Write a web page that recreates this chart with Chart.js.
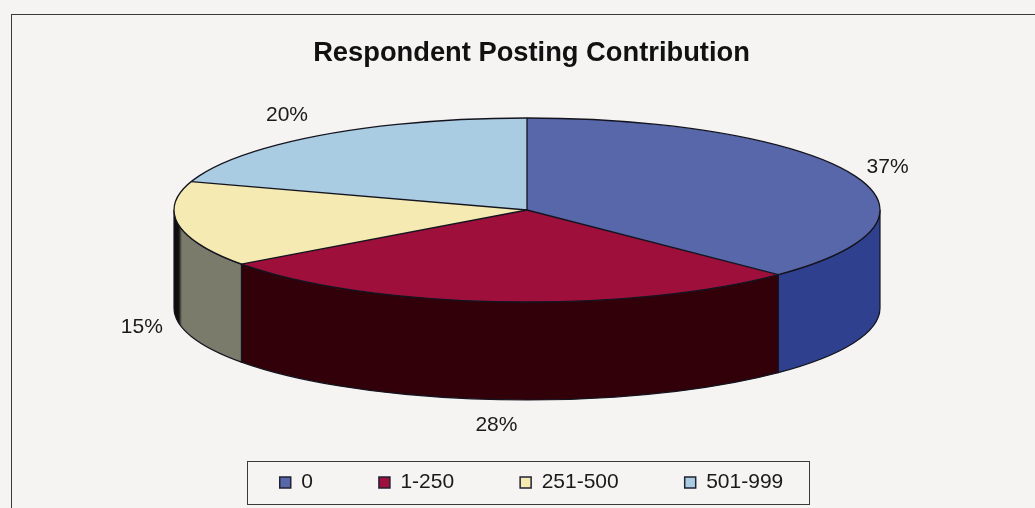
<!DOCTYPE html>
<html>
<head>
<meta charset="utf-8">
<style>
html,body{margin:0;padding:0;background:#f4f2f1;}
#wrap{width:1035px;height:508px;filter:blur(0.45px);}
canvas{display:block;}
</style>
<script src="https://cdn.jsdelivr.net/npm/chart.js@4/dist/chart.umd.min.js"></script>
</head>
<body>
<div id="wrap"><canvas id="c" width="1035" height="508"></canvas></div>
<script>
const categories = ['0', '1-250', '251-500', '501-999'];
const values = [37.4, 27.6, 15, 20];
const topColors = ['#5767a9', '#9f0f3c', '#f5ebb2', '#a9cce2'];
const sideColors = ['#2f408e', '#320009', '#7b7b6c', '#6f8ea3'];
const labelNudges = [[-2, 1], [-1, 4], [3, 1], [-9, -3]];
const chartTitle = 'Respondent Posting Contribution';

const CX = 527, CY = 210, RX = 353, RY = 92, DEPTH = 98;
const INK = '#14141f';

function sideFill(ctx, i) {
  if (i !== 2) return sideColors[i];
  const g = ctx.createLinearGradient(CX - RX, 0, CX - RX + 8, 0);
  g.addColorStop(0, '#0a0a0a');
  g.addColorStop(0.6, '#111111');
  g.addColorStop(1, sideColors[i]);
  return g;
}

const pie3d = {
  id: 'pie3d',
  beforeDraw(chart) {
    const ctx = chart.ctx;
    ctx.save();
    ctx.fillStyle = '#f6f4f3';
    ctx.fillRect(0, 0, 1035, 508);
    ctx.strokeStyle = '#3a3a3a';
    ctx.lineWidth = 1;
    ctx.strokeRect(11.5, 14.5, 1060, 520);
    ctx.strokeRect(247.5, 461.5, 562, 43);
    ctx.restore();
  },
  beforeDatasetsDraw(chart) {
    const ctx = chart.ctx;
    const arcs = chart.getDatasetMeta(0).data;
    ctx.save();
    ctx.strokeStyle = INK;
    ctx.lineWidth = 1.2;
    arcs.forEach((arc, i) => {
      const a1 = Math.max(arc.startAngle, 0);
      const a2 = Math.min(arc.endAngle, Math.PI);
      if (a2 <= a1) return;
      ctx.beginPath();
      ctx.ellipse(CX, CY, RX, RY, 0, a1, a2);
      ctx.lineTo(CX + RX * Math.cos(a2), CY + RY * Math.sin(a2) + DEPTH);
      ctx.ellipse(CX, CY + DEPTH, RX, RY, 0, a2, a1, true);
      ctx.closePath();
      ctx.fillStyle = sideFill(ctx, i);
      ctx.fill();
      ctx.stroke();
    });
    ctx.restore();
    const first = arcs[0];
    ctx.save();
    ctx.translate(CX, CY);
    ctx.scale(RX / first.outerRadius, RY / first.outerRadius);
    ctx.translate(-first.x, -first.y);
  },
  afterDatasetsDraw(chart) {
    const ctx = chart.ctx;
    ctx.restore();
    const arcs = chart.getDatasetMeta(0).data;
    ctx.save();
    ctx.strokeStyle = INK;
    ctx.lineWidth = 1.3;
    ctx.beginPath();
    ctx.ellipse(CX, CY, RX, RY, 0, 0, Math.PI * 2);
    ctx.stroke();
    arcs.forEach(arc => {
      ctx.beginPath();
      ctx.moveTo(CX, CY);
      ctx.lineTo(CX + RX * Math.cos(arc.startAngle), CY + RY * Math.sin(arc.startAngle));
      ctx.stroke();
    });
    ctx.fillStyle = '#1a1a1a';
    ctx.font = '21px "Liberation Sans", Arial, sans-serif';
    ctx.textAlign = 'center';
    ctx.textBaseline = 'middle';
    arcs.forEach((arc, i) => {
      const mid = (arc.startAngle + arc.endAngle) / 2;
      const c = Math.cos(mid), s = Math.sin(mid);
      const x = CX + (RX + 40) * c + labelNudges[i][0];
      const y = CY + (RY + 22) * s + (s > 0 ? DEPTH : 0) + labelNudges[i][1];
      ctx.fillText(Math.round(values[i]) + '%', x, y);
    });
    ctx.restore();
  }
};

new Chart(document.getElementById('c'), {
  type: 'pie',
  plugins: [pie3d],
  data: {
    labels: categories,
    datasets: [{
      data: values,
      backgroundColor: topColors,
      borderWidth: 0,
      clip: false
    }]
  },
  options: {
    responsive: false,
    animation: false,
    layout: { padding: { left: 28, bottom: 5 } },
    plugins: {
      tooltip: { enabled: false },
      title: {
        display: true,
        text: chartTitle,
        color: '#111111',
        font: { family: '"Liberation Sans", Arial, sans-serif', size: 27.3, weight: 'bold' },
        padding: { top: 37, bottom: 0 }
      },
      legend: {
        position: 'bottom',
        labels: {
          color: '#1a1a1a',
          font: { family: '"Liberation Sans", Arial, sans-serif', size: 21 },
          boxWidth: 11,
          boxHeight: 11,
          padding: 66,
          generateLabels(chart) {
            return Chart.overrides.doughnut.plugins.legend.labels.generateLabels(chart)
              .map(l => Object.assign(l, { lineWidth: 1.5, strokeStyle: '#222233' }));
          }
        }
      }
    }
  }
});
</script>
</body>
</html>
